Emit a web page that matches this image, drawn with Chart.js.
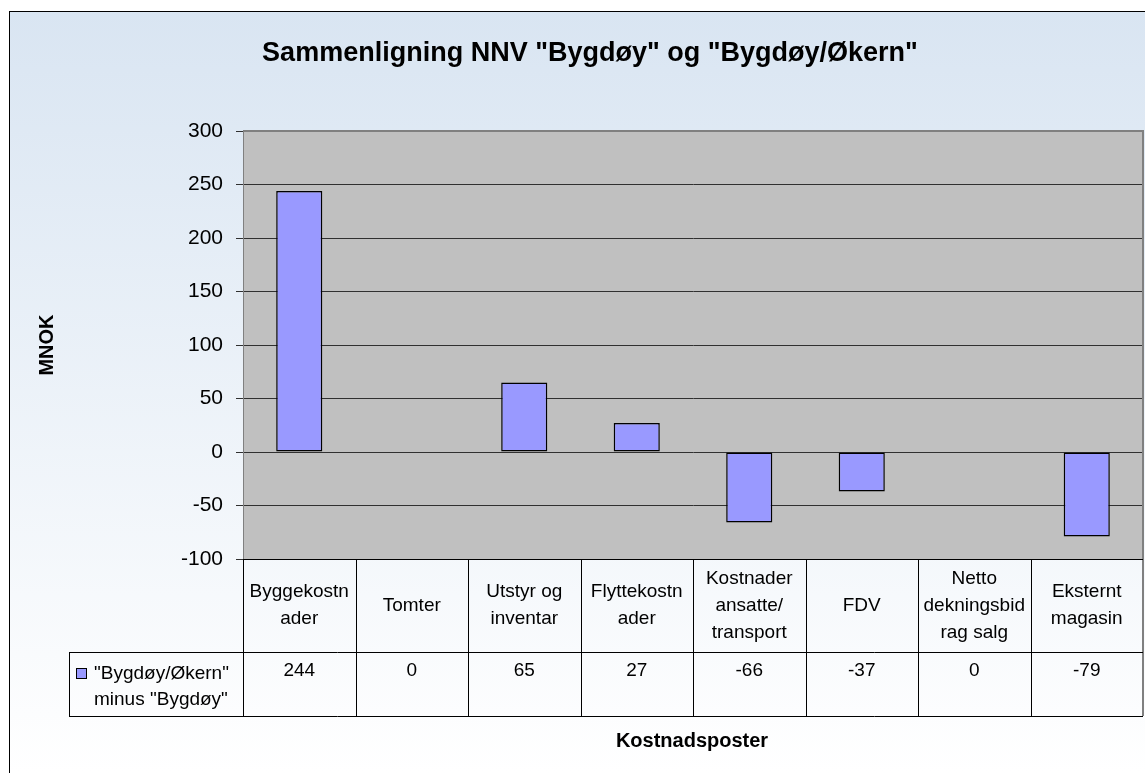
<!DOCTYPE html>
<html>
<head>
<meta charset="utf-8">
<script src="https://cdn.jsdelivr.net/npm/chart.js@4/dist/chart.umd.min.js"></script>
<style>
  body { margin: 0; background: #fff; }
  canvas { display: block; }
</style>
</head>
<body>
<canvas id="chartCanvas" width="1145" height="773"></canvas>
<script>
// chart data
const categories = [
    ['Byggekostn', 'ader'],
    ['Tomter'],
    ['Utstyr og', 'inventar'],
    ['Flyttekostn', 'ader'],
    ['Kostnader', 'ansatte/', 'transport'],
    ['FDV'],
    ['Netto', 'dekningsbid', 'rag salg'],
    ['Eksternt', 'magasin']
];
const values = [244, 0, 65, 27, -66, -37, 0, -79];
const seriesName = ['"Bygdøy/Økern"', 'minus "Bygdøy"'];
const yMin = -100;
const yMax = 300;
const yStep = 50;

const chartTitle = 'Sammenligning NNV "Bygdøy" og "Bygdøy/Økern"';
const yTitle = 'MNOK';
const xTitle = 'Kostnadsposter';

const FONT = '"Liberation Sans", Arial, sans-serif';
const barFill = '#9999FF';

// background, frame, plot area, titles and the data table
const excelLook = {
    id: 'excelLook',
    beforeDraw(chart) {
        const ctx = chart.ctx;
        const a = chart.chartArea;
        ctx.save();
        ctx.fillStyle = '#fff';
        ctx.fillRect(0, 0, chart.width, chart.height);
        const g = ctx.createLinearGradient(0, 11, 0, 773);
        g.addColorStop(0, '#D9E5F2');
        g.addColorStop(1, '#FFFFFF');
        ctx.fillStyle = g;
        ctx.fillRect(10, 11, chart.width, chart.height);
        ctx.strokeStyle = '#000';
        ctx.lineWidth = 1;
        ctx.strokeRect(9.5, 11.5, chart.width + 20, chart.height + 20);
        ctx.fillStyle = '#C0C0C0';
        ctx.fillRect(a.left, a.top, a.right - a.left, a.bottom - a.top);
        ctx.restore();
    },
    afterDraw(chart) {
        const ctx = chart.ctx;
        const a = chart.chartArea;
        const x = chart.scales.x;
        const n = categories.length;
        const colW = (a.right - a.left) / n;
        const headBottom = 652;
        const rowBottom = 716;
        const legLeft = 69;
        ctx.save();

        // plot border
        ctx.strokeStyle = '#808080';
        ctx.lineWidth = 2;
        ctx.beginPath();
        ctx.moveTo(a.left, a.top);
        ctx.lineTo(a.right, a.top);
        ctx.lineTo(a.right, rowBottom);
        ctx.stroke();

        // table lines
        ctx.strokeStyle = '#000';
        ctx.lineWidth = 1;
        ctx.beginPath();
        ctx.moveTo(a.left, a.bottom + 0.5);
        ctx.lineTo(a.right, a.bottom + 0.5);
        ctx.moveTo(legLeft, headBottom + 0.5);
        ctx.lineTo(a.right, headBottom + 0.5);
        ctx.moveTo(legLeft, rowBottom + 0.5);
        ctx.lineTo(a.right, rowBottom + 0.5);
        ctx.moveTo(legLeft + 0.5, headBottom);
        ctx.lineTo(legLeft + 0.5, rowBottom);
        for (let i = 0; i < n; i++) {
            const lx = Math.round(a.left + i * colW) + 0.5;
            ctx.moveTo(lx, a.bottom);
            ctx.lineTo(lx, rowBottom);
        }
        ctx.stroke();

        // header and value cells
        ctx.fillStyle = '#000';
        ctx.textAlign = 'center';
        ctx.textBaseline = 'middle';
        ctx.font = '19px ' + FONT;
        const lh = 27;
        const mid = (a.bottom + headBottom) / 2;
        categories.forEach((lines, i) => {
            const cx = x.getPixelForValue(i);
            const y0 = mid - (lines.length - 1) * lh / 2;
            lines.forEach((t, j) => ctx.fillText(t, cx, y0 + j * lh));
            ctx.fillText(String(values[i]), cx, 671);
        });

        // legend cell
        ctx.fillStyle = barFill;
        ctx.fillRect(76, 668, 10, 10);
        ctx.strokeStyle = '#000';
        ctx.lineWidth = 1;
        ctx.strokeRect(76.5, 668.5, 10, 10);
        ctx.fillStyle = '#000';
        ctx.textAlign = 'left';
        ctx.fillText(seriesName[0], 94, 674);
        ctx.fillText(seriesName[1], 94, 700);

        // titles
        ctx.textAlign = 'center';
        ctx.font = 'bold 27px ' + FONT;
        ctx.fillText(chartTitle, 590, 54);
        ctx.font = 'bold 20px ' + FONT;
        ctx.fillText(xTitle, 692, 741);
        ctx.translate(47, 345);
        ctx.rotate(-Math.PI / 2);
        ctx.fillText(yTitle, 0, 0);
        ctx.restore();
    }
};

const ctx = document.getElementById('chartCanvas').getContext('2d');
const myChart = new Chart(ctx, {
    type: 'bar',
    data: {
        labels: categories,
        datasets: [{
            label: seriesName.join(' '),
            data: values,
            backgroundColor: barFill,
            borderColor: '#000',
            borderWidth: 1.5,
            borderSkipped: false,
            categoryPercentage: 1,
            barPercentage: 0.41
        }]
    },
    options: {
        responsive: false,
        animation: false,
        layout: { padding: { left: 0, top: 131, right: 2, bottom: 214 } },
        plugins: {
            legend: { display: false },
            title: { display: false },
            tooltip: { enabled: false }
        },
        scales: {
            x: { display: false },
            y: {
                min: yMin,
                max: yMax,
                afterFit(scale) { scale.width = 243; },
                ticks: {
                    stepSize: yStep,
                    padding: 13,
                    color: '#000',
                    font: { family: FONT, size: 21 }
                },
                grid: {
                    color: '#303030',
                    lineWidth: 1,
                    tickLength: 7,
                    drawOnChartArea: true
                },
                border: { display: true, color: '#808080', width: 1 }
            }
        }
    },
    plugins: [excelLook]
});
</script>
</body>
</html>
